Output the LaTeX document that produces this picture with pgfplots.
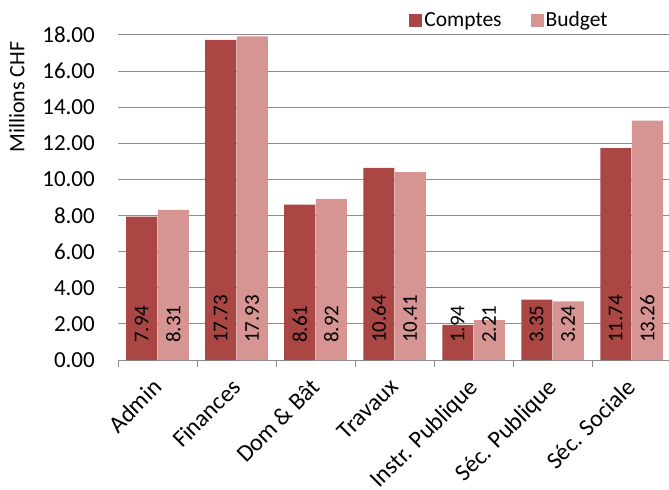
\documentclass[border=0pt]{standalone}
\usepackage{fontspec}
\setmainfont{Carlito}
\usepackage{pgfplots}
\pgfplotsset{compat=1.18}
\definecolor{comptes}{HTML}{AA4644}
\definecolor{budget}{HTML}{D69492}
\definecolor{gridgray}{HTML}{8C8C8C}
\begin{document}
\begin{tikzpicture}
\path[use as bounding box] (0,0) rectangle (669bp,490bp);
\begin{axis}[
  at={(118bp,130bp)}, anchor=south west,
  scale only axis, width=553bp, height=325bp,
  xmin=-0.5, xmax=6.5, ymin=0, ymax=18,
  ybar=0.5bp, bar width=31bp,
  clip=false,
  axis x line*=bottom, axis y line*=left,
  y axis line style={draw=none},
  x axis line style={gridgray, line width=1bp},
  xtick={0,...,6},
  xticklabels={Admin, Finances, Dom \& Bât, Travaux, Instr. Publique, Séc. Publique, Séc. Sociale},
  minor xtick={-0.5,0.5,...,6.5},
  major tick length=0pt,
  minor tick length=7bp,
  tick align=outside,
  minor x tick style={gridgray, line width=1bp},
  major tick style={draw=none},
  ytick={0,2,...,18},
  ymajorgrids,
  grid style={gridgray, line width=1bp},
  /pgf/number format/.cd, fixed, fixed zerofill, precision=2, assume math mode=true,
  /pgfplots/.cd,
  yticklabel style={font=\fontsize{23bp}{27bp}\selectfont, black, anchor=east, inner sep=0pt, xshift=-23bp},
  xticklabel style={font=\fontsize{24bp}{28bp}\selectfont, black, inner sep=0pt,
    xshift=-6bp, yshift=-17bp, rotate=45, anchor=north east},
  ylabel={Millions CHF},
  every axis y label/.style={at={(axis description cs:-0.183,0.809)}, rotate=90, anchor=center, font=\fontsize{22bp}{26bp}\selectfont},
  legend style={at={(0.708,1.046)}, anchor=center, draw=none, fill=none,
    legend columns=2, font=\fontsize{21.5bp}{25bp}\selectfont,
    /tikz/every even column/.append style={column sep=27bp},
    inner sep=0pt, nodes={inner sep=2bp}},
  nodes near coords,
  visualization depends on={y \as \rawy},
  every node near coord/.append style={
    shift={(axis direction cs:0,-\rawy)}, yshift=17bp,
    rotate=90, anchor=west, inner sep=0pt,
    font=\fontsize{21bp}{25bp}\selectfont, black},
]
\addplot[fill=comptes, draw=none,
  legend image code/.code={\fill[comptes] (-4bp,-6.5bp) rectangle (9bp,6.5bp);}]
  coordinates {(0,7.94) (1,17.73) (2,8.61) (3,10.64) (4,1.94) (5,3.35) (6,11.74)};
\addplot[fill=budget, draw=none,
  legend image code/.code={\fill[budget] (-4bp,-6.5bp) rectangle (9bp,6.5bp);}]
  coordinates {(0,8.31) (1,17.93) (2,8.92) (3,10.41) (4,2.21) (5,3.24) (6,13.26)};
\legend{Comptes, Budget}
\end{axis}
\end{tikzpicture}
\end{document}
